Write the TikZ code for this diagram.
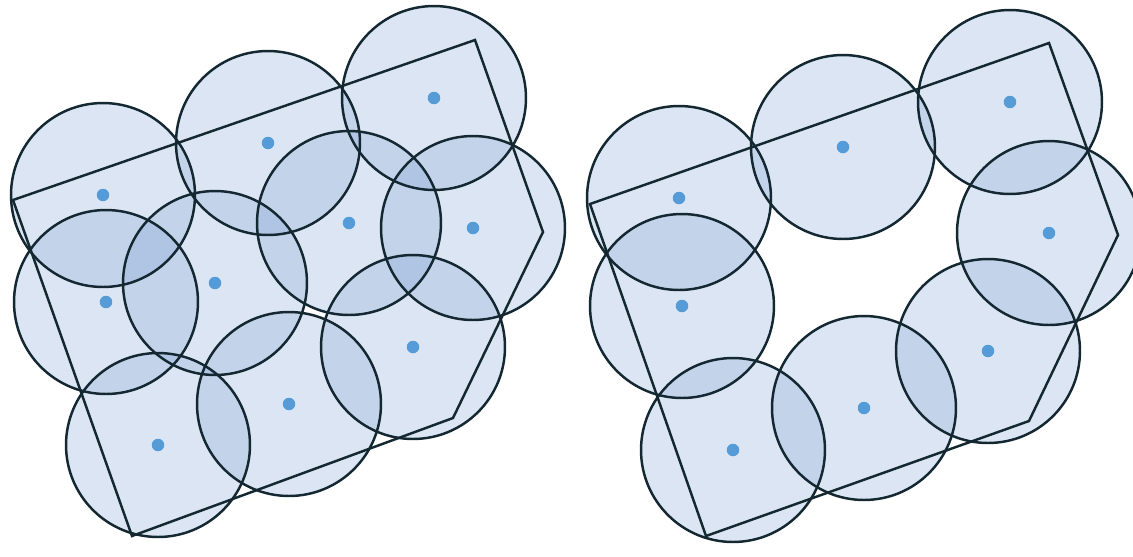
\documentclass[tikz,border=0pt]{standalone}
\usepackage{tikz}
\usetikzlibrary{backgrounds}
\definecolor{covblue}{RGB}{125,160,210}
\definecolor{dotblue}{RGB}{85,155,215}
\definecolor{rimdark}{RGB}{20,40,50}

\begin{document}
\begin{tikzpicture}[x=0.02cm,y=-0.02cm,
  sensor/.style={circle,fill=dotblue,inner sep=0pt,minimum size=0.25cm},
  cover/.style={fill=covblue,fill opacity=0.27},
  rim/.style={draw=rimdark,line width=1.4pt},
  border/.style={draw=rimdark,line width=1.4pt,line join=miter}]
  \useasboundingbox (0,0) rectangle (1133,556);

  %% left field: ten sensors
  \node[sensor] (l1)  at (434,98)  {};
  \node[sensor] (l2)  at (268,143) {};
  \node[sensor] (l3)  at (103,195) {};
  \node[sensor] (l4)  at (349,223) {};
  \node[sensor] (l5)  at (473,228) {};
  \node[sensor] (l6)  at (215,283) {};
  \node[sensor] (l7)  at (106,302) {};
  \node[sensor] (l8)  at (413,347) {};
  \node[sensor] (l9)  at (289,404) {};
  \node[sensor] (l10) at (158,445) {};

  %% right field: eight sensors
  \node[sensor] (r1) at (1010,102) {};
  \node[sensor] (r2) at (843,147)  {};
  \node[sensor] (r3) at (679,198)  {};
  \node[sensor] (r4) at (1049,233) {};
  \node[sensor] (r5) at (682,306)  {};
  \node[sensor] (r6) at (988,351)  {};
  \node[sensor] (r7) at (864,408)  {};
  \node[sensor] (r8) at (733,450)  {};

  %% sensing ranges
  \begin{scope}[on background layer]
    \foreach \i in {1,...,10}
      \fill[cover] (l\i) circle (1.84cm);
    \foreach \i in {1,...,8}
      \fill[cover] (r\i) circle (1.84cm);
    \foreach \i in {1,...,10}
      \draw[rim] (l\i) circle (1.84cm);
    \foreach \i in {1,...,8}
      \draw[rim] (r\i) circle (1.84cm);
  \end{scope}

  %% monitored area
  \coordinate (la) at (475,40);
  \coordinate (lb) at (13,200);
  \coordinate (lc) at (132,536);
  \coordinate (ld) at (453,418);
  \coordinate (le) at (543,232);
  \draw[border] (la) -- (lb) -- (lc) -- (ld) -- (le) -- cycle;

  \coordinate (ra) at (1049,43);
  \coordinate (rb) at (590,204);
  \coordinate (rc) at (706,536);
  \coordinate (rd) at (1029,421);
  \coordinate (re) at (1118,235);
  \draw[border] (ra) -- (rb) -- (rc) -- (rd) -- (re) -- cycle;
\end{tikzpicture}
\end{document}
